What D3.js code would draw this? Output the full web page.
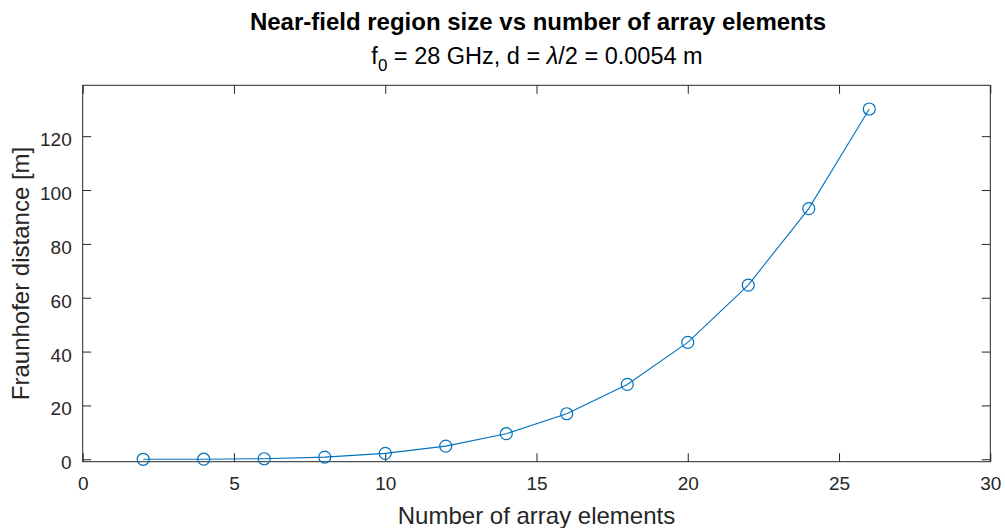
<!DOCTYPE html>
<html>
<head>
<meta charset="utf-8">
<script src="https://cdn.jsdelivr.net/npm/d3@7"></script>
<style>
  html, body { margin: 0; padding: 0; background: #fff; }
  svg { display: block; }
  text { font-family: "Liberation Sans", Arial, sans-serif; fill: #262626; }
</style>
</head>
<body>
<svg id="chart" width="1005" height="528"></svg>
<script>
// Number of array elements and the resulting Fraunhofer distance [m]
const elements = [2, 4, 6, 8, 10, 12, 14, 16, 18, 20, 22, 24, 26];
const fraunhofer = [0.0, 0.03, 0.2, 0.8, 2.2, 4.9, 9.5, 16.9, 27.8, 43.4, 64.7, 93.1, 130.1];
const xTicks = [0, 5, 10, 15, 20, 25, 30];
const yTicks = [0, 20, 40, 60, 80, 100, 120];

const svg = d3.select("#chart");
const plotL = 82.7, plotR = 990.3, plotT = 85.3, plotB = 461.7;
const axisColor = "#262626";
const lineColor = "#0072BD";
const tickLen = 8.5;
const tickFont = 19;
const labelFont = 24;

const x = d3.scaleLinear().domain([0, 30]).range([plotL, plotR]);
const y = d3.scaleLinear().domain([-0.9, 138.9]).range([plotB, plotT]);

const g = svg.append("g");

// Box around the plot area
g.append("rect")
  .attr("x", plotL).attr("y", plotT)
  .attr("width", plotR - plotL).attr("height", plotB - plotT)
  .attr("fill", "none").attr("stroke", axisColor).attr("stroke-width", 1);

// Bottom axis with inward ticks
const xAxis = d3.axisBottom(x).tickValues(xTicks).tickSizeInner(-tickLen).tickSizeOuter(0).tickPadding(15);
const gx = g.append("g").attr("transform", `translate(0,${plotB})`).call(xAxis);
gx.select(".domain").remove();
gx.selectAll("line").attr("stroke", axisColor);
gx.selectAll("text").attr("font-size", tickFont).attr("font-family", "Liberation Sans, Arial, sans-serif").attr("fill", axisColor);

// Top ticks
const gxt = g.append("g").attr("transform", `translate(0,${plotT})`)
  .call(d3.axisTop(x).tickValues(xTicks).tickSizeInner(-tickLen).tickSizeOuter(0).tickFormat(""));
gxt.select(".domain").remove();
gxt.selectAll("line").attr("stroke", axisColor);

// Left axis
const yAxis = d3.axisLeft(y).tickValues(yTicks).tickSizeInner(-tickLen).tickSizeOuter(0).tickPadding(11);
const gy = g.append("g").attr("transform", `translate(${plotL},0)`).call(yAxis);
gy.select(".domain").remove();
gy.selectAll("line").attr("stroke", axisColor);
gy.selectAll("text").attr("font-size", tickFont).attr("dy", "0.5em")
  .attr("font-family", "Liberation Sans, Arial, sans-serif").attr("fill", axisColor);

// Right ticks
const gyr = g.append("g").attr("transform", `translate(${plotR},0)`)
  .call(d3.axisRight(y).tickValues(yTicks).tickSizeInner(-tickLen).tickSizeOuter(0).tickFormat(""));
gyr.select(".domain").remove();
gyr.selectAll("line").attr("stroke", axisColor);

// Data line
const pts = elements.map((n, i) => [n, fraunhofer[i]]);
g.append("path")
  .datum(pts)
  .attr("fill", "none")
  .attr("stroke", lineColor)
  .attr("stroke-width", 1.1)
  .attr("d", d3.line().x(d => x(d[0])).y(d => y(d[1])));

// Circle markers
g.selectAll("circle.m")
  .data(pts)
  .join("circle")
  .attr("class", "m")
  .attr("cx", d => x(d[0]))
  .attr("cy", d => y(d[1]))
  .attr("r", 6)
  .attr("fill", "none")
  .attr("stroke", lineColor)
  .attr("stroke-width", 1.2);

// Axis labels
svg.append("text")
  .attr("x", 536.5).attr("y", 524)
  .attr("text-anchor", "middle").attr("font-size", labelFont)
  .text("Number of array elements");

svg.append("text")
  .attr("transform", `translate(28.5,${(plotT + plotB) / 2}) rotate(-90)`)
  .attr("text-anchor", "middle").attr("font-size", labelFont)
  .text("Fraunhofer distance [m]");

// Title and subtitle
svg.append("text")
  .attr("x", 538).attr("y", 30)
  .attr("text-anchor", "middle").attr("font-size", 24).attr("font-weight", "bold")
  .style("fill", "#000")
  .text("Near-field region size vs number of array elements");

const sub = svg.append("text")
  .attr("x", 537).attr("y", 64)
  .attr("text-anchor", "middle").attr("font-size", 23.5)
  .style("fill", "#000");
sub.append("tspan").text("f");
sub.append("tspan").attr("dy", 7).attr("font-size", 17).text("0");
sub.append("tspan").attr("dy", -7).text(" = 28 GHz, d = ");
sub.append("tspan").attr("font-style", "italic").text("λ");
sub.append("tspan").text("/2 = 0.0054 m");
</script>
</body>
</html>
